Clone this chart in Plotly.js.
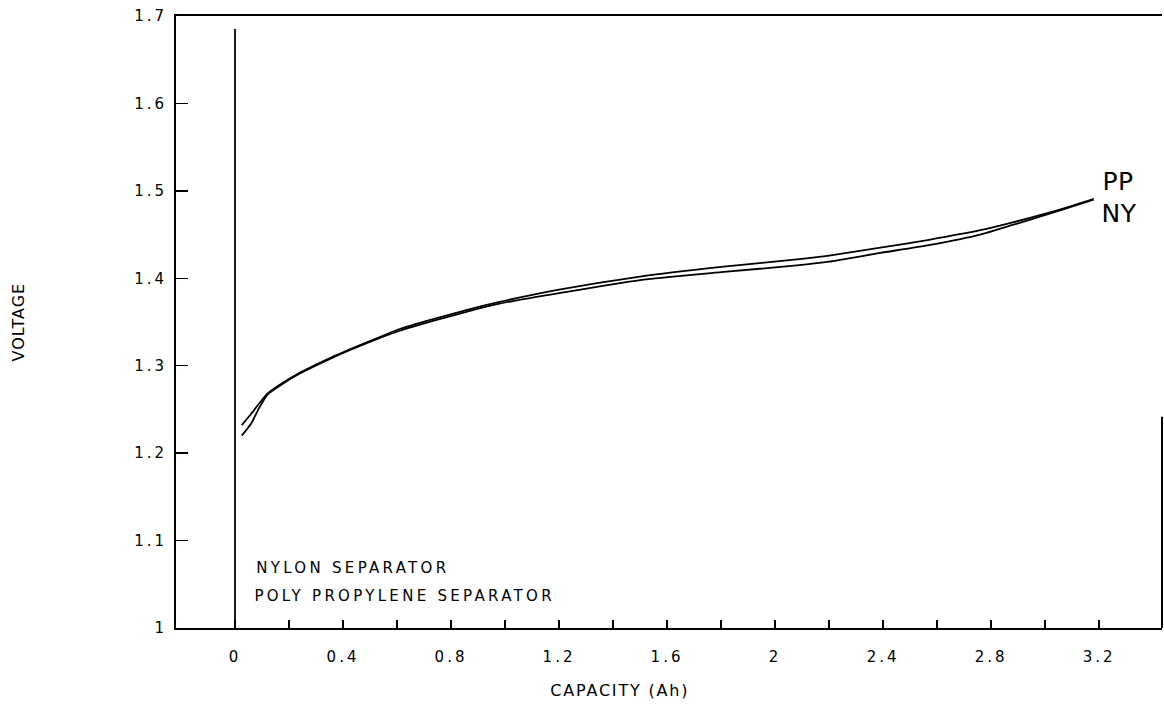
<!DOCTYPE html>
<html>
<head>
<meta charset="utf-8">
<script src="https://cdn.plot.ly/plotly-3.0.1.min.js"></script>
<style>
  html, body { margin: 0; padding: 0; background: #fff; }
  #chart { width: 1164px; height: 704px; }
</style>
</head>
<body>
<div id="chart"></div>
<script>
// Capacity (Ah) sample points
const capacity = [0.025, 0.06, 0.09, 0.12, 0.18, 0.24, 0.36, 0.49, 0.61, 0.73, 0.86, 0.98, 1.2, 1.5, 1.8, 2.09, 2.2, 2.39, 2.57, 2.76, 2.88, 3.07, 3.18];
// Poly propylene separator voltage
const voltagePP = [1.232, 1.245, 1.257, 1.268, 1.281, 1.292, 1.310, 1.327, 1.342, 1.353, 1.364, 1.373, 1.387, 1.402, 1.413, 1.422, 1.426, 1.435, 1.444, 1.455, 1.464, 1.480, 1.491];
// Nylon separator voltage
const voltageNY = [1.220, 1.234, 1.252, 1.267, 1.280, 1.291, 1.309, 1.326, 1.340, 1.351, 1.362, 1.371, 1.383, 1.398, 1.407, 1.415, 1.419, 1.429, 1.438, 1.450, 1.461, 1.479, 1.490];
// Vertical start line at zero capacity
const startX = [0, 0];
const startY = [1.0, 1.685];

const xTickVals = [0, 0.4, 0.8, 1.2, 1.6, 2, 2.4, 2.8, 3.2];
const xTickText = ['0', '0.4', '0.8', '1.2', '1.6', '2', '2.4', '2.8', '3.2'];
const xMinorVals = [0.2, 0.6, 1.0, 1.4, 1.8, 2.2, 2.6, 3.0];
const yTickVals = [1, 1.1, 1.2, 1.3, 1.4, 1.5, 1.6, 1.7];
const yTickText = ['1', '1.1', '1.2', '1.3', '1.4', '1.5', '1.6', '1.7'];

const seriesLabels = ['PP', 'NY'];
const noteLines = ['NYLON SEPARATOR', 'POLY PROPYLENE SEPARATOR'];
const xTitle = 'CAPACITY (Ah)';
const yTitle = 'VOLTAGE';

const font = 'DejaVu Sans, sans-serif';

const traces = [
  { x: startX, y: startY, mode: 'lines', line: { color: '#000', width: 1.8 }, hoverinfo: 'skip', showlegend: false },
  { x: capacity, y: voltagePP, mode: 'lines', name: 'PP', line: { color: '#000', width: 1.8, shape: 'spline', smoothing: 0.5 }, showlegend: false },
  { x: capacity, y: voltageNY, mode: 'lines', name: 'NY', line: { color: '#000', width: 1.8, shape: 'spline', smoothing: 0.5 }, showlegend: false }
];

function px(x) { return (x - 176) / 986; }
function py(y) { return (628 - y) / 612; }

const spacing = [0.5, 0.5, 3.3, 3.3, 1.8, 1.0];

const layout = {
  width: 1164, height: 704,
  margin: { l: 176, r: 2, t: 16, b: 76 },
  paper_bgcolor: '#fff', plot_bgcolor: '#fff',
  showlegend: false,
  font: { family: font, color: '#000', size: 14 },
  xaxis: {
    range: [-0.2185, 3.433], showgrid: false, zeroline: false,
    showline: true, linecolor: '#000', linewidth: 2, mirror: true,
    tickmode: 'array', tickvals: xTickVals, ticktext: xTickText,
    ticks: 'inside', ticklen: 8, tickwidth: 1.5, tickcolor: '#000',
    minor: { tickmode: 'array', tickvals: xMinorVals, ticks: 'inside', ticklen: 8, tickwidth: 1.5, tickcolor: '#000' },
    tickfont: { family: font, size: 15, color: '#000' },
    ticklabelstandoff: 14
  },
  yaxis: {
    range: [1.0, 1.7], showgrid: false, zeroline: false,
    showline: true, linecolor: '#000', linewidth: 2,
    tickmode: 'array', tickvals: yTickVals, ticktext: yTickText,
    ticks: 'inside', ticklen: 12, tickwidth: 1.5, tickcolor: '#000',
    tickfont: { family: font, size: 15, color: '#000' },
    ticklabelstandoff: 4
  },
  shapes: [
    { type: 'line', xref: 'paper', yref: 'paper', x0: 1, x1: 1, y0: 0, y1: 0.345, line: { color: '#000', width: 2 } }
  ],
  annotations: [
    { text: seriesLabels[0], xref: 'paper', yref: 'paper', x: px(1118), y: py(181), xanchor: 'center', yanchor: 'middle', showarrow: false, font: { family: font, size: 25, color: '#000' } },
    { text: seriesLabels[1], xref: 'paper', yref: 'paper', x: px(1119), y: py(214), xanchor: 'center', yanchor: 'middle', showarrow: false, font: { family: font, size: 25, color: '#000' } },
    { text: noteLines[0], xref: 'paper', yref: 'paper', x: px(353), y: py(568), xanchor: 'center', yanchor: 'middle', showarrow: false, font: { family: font, size: 15, color: '#000' } },
    { text: noteLines[1], xref: 'paper', yref: 'paper', x: px(404), y: py(596), xanchor: 'center', yanchor: 'middle', showarrow: false, font: { family: font, size: 15, color: '#000' } },
    { text: xTitle, xref: 'paper', yref: 'paper', x: px(620), y: py(690), xanchor: 'center', yanchor: 'middle', showarrow: false, font: { family: font, size: 16, color: '#000' } },
    { text: yTitle, xref: 'paper', yref: 'paper', x: px(18), y: py(322), xanchor: 'center', yanchor: 'middle', textangle: -90, showarrow: false, font: { family: font, size: 16, color: '#000' } }
  ]
};

Plotly.newPlot('chart', traces, layout, { staticPlot: true }).then(function () {
  document.querySelectorAll('g.annotation').forEach(function (g) {
    const i = parseInt(g.getAttribute('data-index'), 10);
    const el = g.querySelector('.annotation-text');
    if (el && !isNaN(i)) el.style.letterSpacing = spacing[i] + 'px';
  });
  document.querySelectorAll('.xtick text, .ytick text').forEach(function (el) {
    el.style.letterSpacing = '3px';
  });
});
</script>
</body>
</html>
